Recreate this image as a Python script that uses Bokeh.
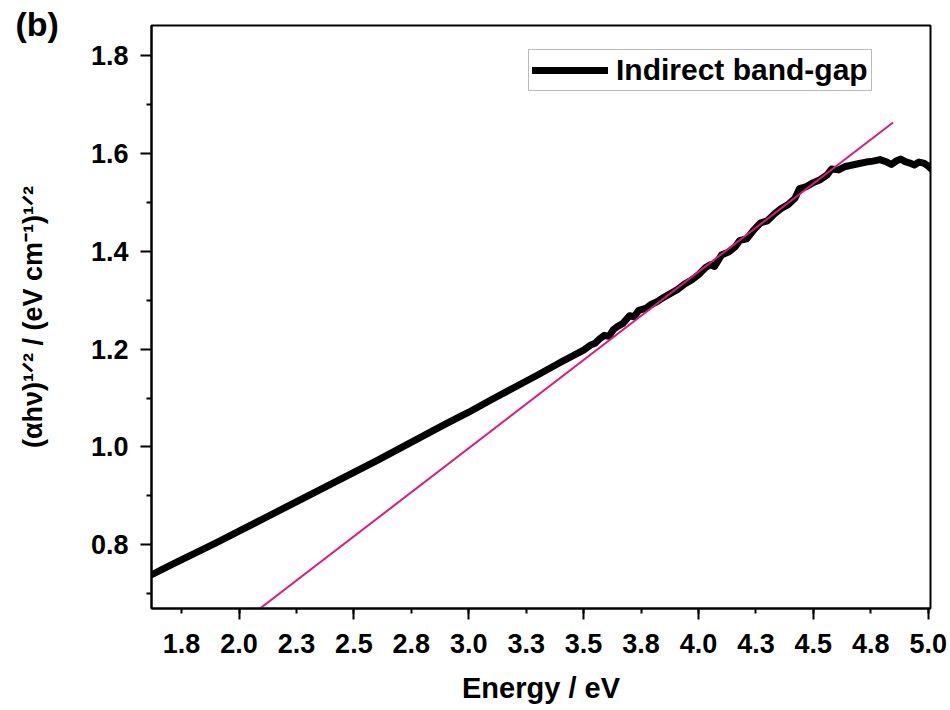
from bokeh.plotting import figure
from bokeh.models import FixedTicker, Legend, LegendItem, Range1d
from bokeh.embed import file_html
from bokeh.resources import INLINE

# ---- data ----
energy = [1.62, 1.70, 1.80, 1.90, 2.00, 2.10, 2.20, 2.30, 2.40, 2.50,
          2.60, 2.70, 2.80, 2.90, 3.00, 3.10, 3.20, 3.30, 3.40, 3.50,
          3.53, 3.55, 3.57, 3.59, 3.61, 3.63, 3.65, 3.67, 3.70, 3.72,
          3.74, 3.77, 3.79, 3.82, 3.85, 3.88, 3.91, 3.94, 3.97, 4.00,
          4.03, 4.05, 4.07, 4.10, 4.13, 4.16, 4.18, 4.21, 4.24, 4.27,
          4.30, 4.33, 4.36, 4.39, 4.42, 4.44, 4.47, 4.50, 4.53, 4.56,
          4.58, 4.61, 4.64, 4.67, 4.70, 4.73, 4.76, 4.79, 4.82, 4.84,
          4.86, 4.88, 4.90, 4.92, 4.94, 4.96, 4.98, 5.00, 5.01]
ahv_half = [0.739, 0.758, 0.781, 0.804, 0.828, 0.852, 0.876, 0.900, 0.924, 0.948,
            0.972, 0.997, 1.022, 1.047, 1.071, 1.097, 1.122, 1.147, 1.173, 1.198,
            1.208, 1.212, 1.221, 1.228, 1.226, 1.240, 1.247, 1.252, 1.268, 1.266,
            1.279, 1.283, 1.290, 1.297, 1.306, 1.314, 1.322, 1.333, 1.341, 1.352,
            1.366, 1.372, 1.369, 1.392, 1.398, 1.409, 1.422, 1.425, 1.443, 1.458,
            1.462, 1.476, 1.487, 1.495, 1.508, 1.528, 1.532, 1.540, 1.546, 1.556,
            1.568, 1.566, 1.573, 1.576, 1.579, 1.582, 1.584, 1.587, 1.582, 1.577,
            1.584, 1.588, 1.583, 1.580, 1.576, 1.582, 1.580, 1.574, 1.569]

fit_energy = [2.091, 4.847]
fit_value = [0.670, 1.663]

x_ticks = [1.75, 2.0, 2.25, 2.5, 2.75, 3.0, 3.25, 3.5, 3.75, 4.0, 4.25, 4.5, 4.75, 5.0]
x_tick_labels = ["1.8", "2.0", "2.3", "2.5", "2.8", "3.0", "3.3", "3.5", "3.8", "4.0",
                 "4.3", "4.5", "4.8", "5.0"]
x_long_ticks = [2.0, 2.5, 3.0, 3.5, 4.0, 4.5, 5.0]
y_ticks = [0.8, 1.0, 1.2, 1.4, 1.6, 1.8]
y_tick_labels = ["0.8", "1.0", "1.2", "1.4", "1.6", "1.8"]
y_minor_ticks = [0.7, 0.9, 1.1, 1.3, 1.5, 1.7]

series_label = "Indirect band-gap"
x_title = "Energy / eV"
y_title = "(\u03b1h\u03bd)\u00b9\u141f\u00b2 / (eV cm\u207b\u00b9)\u00b9\u141f\u00b2"
panel_tag = "(b)"

FONT = "Liberation Sans"

p = figure(width=950, height=710, output_backend="svg", toolbar_location=None,
           x_range=Range1d(1.619, 5.01), y_range=Range1d(0.670, 1.861),
           min_border_left=151, min_border_right=20, min_border_top=25,
           min_border_bottom=102, title=panel_tag)
p.title.text_font = FONT
p.title.text_font_style = "bold"
p.title.text_font_size = "34px"
p.title.text_color = "black"
p.title.align = "left"
p.title.offset = -136
p.title.standoff = -35
p.title.vertical_align = "bottom"

p.background_fill_color = "white"
p.border_fill_color = "white"
p.xgrid.visible = False
p.ygrid.visible = False
p.outline_line_color = "black"
p.outline_line_width = 2

curve = p.line(energy, ahv_half, line_color="black", line_width=7,
               line_join="round", line_cap="round")
p.line(fit_energy, fit_value, line_color="#E0197D", line_width=2)

# axes
xa = p.xaxis[0]
xa.ticker = FixedTicker(ticks=x_ticks, minor_ticks=x_long_ticks)
xa.major_label_overrides = dict(zip(x_ticks, x_tick_labels))
xa.major_tick_in = 0
xa.major_tick_out = 5
xa.minor_tick_in = 0
xa.minor_tick_out = 11
xa.major_label_standoff = 14
xa.axis_label = x_title
xa.axis_label_standoff = 16

ya = p.yaxis[0]
ya.ticker = FixedTicker(ticks=y_ticks, minor_ticks=y_minor_ticks)
ya.major_label_overrides = dict(zip(y_ticks, y_tick_labels))
ya.major_tick_in = 0
ya.major_tick_out = 11
ya.minor_tick_in = 0
ya.minor_tick_out = 5
ya.major_label_standoff = 12
ya.axis_label = y_title
ya.axis_label_standoff = 40

for ax in (xa, ya):
    ax.axis_line_width = 2
    ax.axis_line_color = "black"
    ax.major_tick_line_width = 2
    ax.minor_tick_line_width = 2
    ax.major_tick_line_color = "black"
    ax.minor_tick_line_color = "black"
    ax.major_label_text_font = FONT
    ax.major_label_text_font_style = "bold"
    ax.major_label_text_font_size = "27px"
    ax.major_label_text_color = "black"
    ax.axis_label_text_font = FONT
    ax.axis_label_text_font_style = "bold"
    ax.axis_label_text_color = "black"
xa.axis_label_text_font_size = "29px"
ya.axis_label_text_font_size = "27px"

legend = Legend(items=[LegendItem(label=series_label, renderers=[curve])],
                location=(377, 517), padding=3, margin=0, spacing=0,
                glyph_width=76, glyph_height=30, label_standoff=8,
                label_height=30,
                label_text_font=FONT, label_text_font_style="bold",
                label_text_font_size="30px", label_text_color="black",
                border_line_color="#777777", border_line_width=1,
                background_fill_alpha=1.0)
p.add_layout(legend)

open("out.html", "w").write(file_html(p, INLINE))
